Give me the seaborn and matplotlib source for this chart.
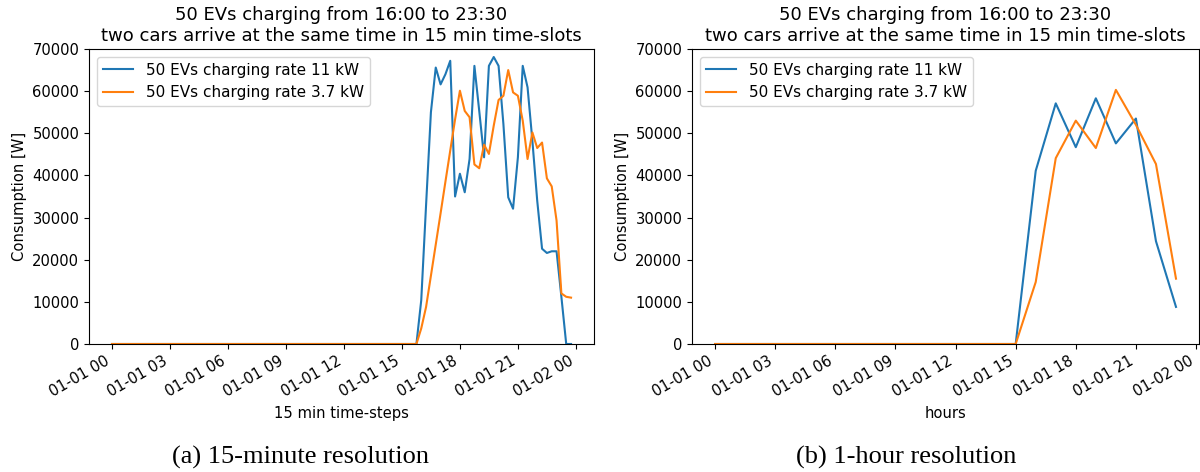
import numpy as np
import pandas as pd
import matplotlib
matplotlib.use('Agg')
import matplotlib.pyplot as plt
import matplotlib.dates as mdates
import seaborn as sns

# 15 min resolution, 00:00 .. 23:45 (zero before 16:00)
ev11_15min = [0] * 64 + [
    10400, 33000, 55000, 65600, 61600, 64000, 67200, 35000,
    40400, 36000, 43900, 66000, 55300, 44300, 66000, 68100,
    66000, 52200, 34800, 32100, 44300, 66000, 60900, 48200,
    34000, 22600, 21600, 22000, 22000, 11200, 0, 0]
ev37_15min = [0] * 64 + [
    3700, 8800, 16200, 23600, 31000, 38500, 45900, 53300,
    60100, 55300, 53800, 42600, 41700, 47300, 45100, 51800,
    57900, 58900, 65000, 59700, 58900, 53000, 43900, 50200,
    46500, 47800, 39300, 37400, 29300, 12000, 11200, 11000]

# 1 hour resolution, 00:00 .. 23:00
ev11_1h = [0] * 16 + [41100, 57100, 46700, 58300, 47600, 53500, 24400, 8800]
ev37_1h = [0] * 16 + [14700, 44100, 53000, 46500, 60300, 52000, 42700, 15500]

label11 = '50 EVs charging rate 11 kW'
label37 = '50 EVs charging rate 3.7 kW'
title = '50 EVs charging from 16:00 to 23:30\ntwo cars arrive at the same time in 15 min time-slots'

t15 = pd.date_range('2019-01-01', periods=len(ev11_15min), freq='15min')
t1h = pd.date_range('2019-01-01', periods=len(ev11_1h), freq='h')

plt.rcParams['font.family'] = 'DejaVu Sans'
plt.rcParams['font.size'] = 10.6

fig = plt.figure(figsize=(12, 4.72), dpi=100)
ax1 = fig.add_axes([0.0742, 0.2712, 0.4208, 0.625])
ax2 = fig.add_axes([0.5767, 0.2712, 0.4225, 0.625])

for ax, t, a, b, xl in [(ax1, t15, ev11_15min, ev37_15min, '15 min time-steps'),
                        (ax2, t1h, ev11_1h, ev37_1h, 'hours')]:
    sns.lineplot(x=t, y=a, ax=ax, color='#1f77b4', linewidth=1.5, label=label11)
    sns.lineplot(x=t, y=b, ax=ax, color='#ff7f0e', linewidth=1.5, label=label37)
    ax.set_ylim(0, 70000)
    ax.xaxis.set_major_locator(mdates.HourLocator(byhour=range(0, 24, 3)))
    ax.xaxis.set_major_formatter(mdates.DateFormatter('%m-%d %H'))
    for lbl in ax.get_xticklabels():
        lbl.set_rotation(30)
        lbl.set_ha('right')
    ax.set_xlabel(xl)
    ax.set_ylabel('Consumption [W]')
    ax.set_title(title, fontsize=13)
    ax.legend(loc='upper left', fontsize=11)

fig.text(0.25, 0.018, '(a) 15-minute resolution', family='Liberation Serif', fontsize=19, ha='center')
fig.text(0.755, 0.018, '(b) 1-hour resolution', family='Liberation Serif', fontsize=19, ha='center')

fig.savefig('out.png', dpi=100)
